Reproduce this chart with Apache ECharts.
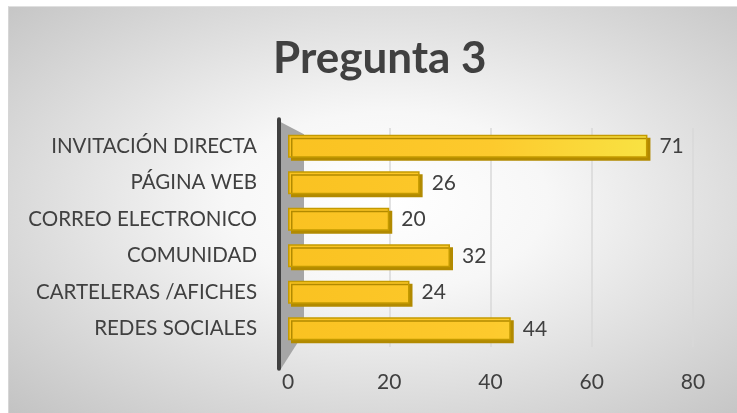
<!DOCTYPE html>
<html>
<head>
<meta charset="utf-8">
<script src="https://cdn.jsdelivr.net/npm/echarts@6/dist/echarts.min.js"></script>
<style>
  html, body { margin: 0; padding: 0; background: #ffffff; }
  #chart {
    position: absolute; left: 8px; top: 6px; width: 729px; height: 407px;
    background: radial-gradient(ellipse at 52% 48%, #ffffff 0%, #f7f7f7 30%, #c3c3c3 100%);
    border-top: 1px solid #e0e0e0; border-left: 1px solid #d6d6d6;
    box-sizing: border-box;
  }
</style>
</head>
<body>
<div id="chart"></div>
<script>
// respuestas a la pregunta 3 (de arriba hacia abajo)
var categorias = ['INVITACIÓN DIRECTA', 'PÁGINA WEB', 'CORREO ELECTRONICO', 'COMUNIDAD', 'CARTELERAS /AFICHES', 'REDES SOCIALES'];
var valores = [71, 26, 20, 32, 24, 44];
var ejeMin = 0;
var ejeMax = 80;
var ejeIntervalo = 20;

var chart = echarts.init(document.getElementById('chart'));
var fuente = 'Lato, "Open Sans", sans-serif';

var option = {
    backgroundColor: 'transparent',
    animation: false,
    title: {
        text: 'Pregunta 3',
        left: 259,
        top: 25,
        textStyle: {fontFamily: fuente, fontSize: 44, fontWeight: 'bold', color: '#404040'}
    },
    grid: {left: 279, right: 44, top: 121, bottom: 66},
    xAxis: {
        type: 'value',
        min: ejeMin,
        max: ejeMax,
        interval: ejeIntervalo,
        axisLine: {show: false},
        axisTick: {show: false},
        axisLabel: {margin: 25, fontFamily: fuente, fontSize: 21, color: '#404040'},
        splitLine: {lineStyle: {color: '#d9d9d9', width: 1.5}}
    },
    yAxis: {
        type: 'category',
        inverse: true,
        data: categorias,
        axisLine: {show: false},
        axisTick: {show: false},
        axisLabel: {margin: 31, fontFamily: fuente, fontSize: 20.5, color: '#404040'}
    },
    series: [{
        type: 'bar',
        data: valores,
        barWidth: 23,
        z: 5,
        itemStyle: {
            color: new echarts.graphic.LinearGradient(279, 0, 650, 0, [
                {offset: 0, color: '#fac221'},
                {offset: 0.55, color: '#fdca2d'},
                {offset: 1, color: '#f8e444'}
            ], true),
            borderColor: '#c49a00',
            borderWidth: 1.5,
            shadowColor: '#b28a00',
            shadowOffsetX: 3,
            shadowOffsetY: 3,
            shadowBlur: 0
        },
        label: {
            show: true,
            position: 'right',
            distance: 12,
            fontFamily: fuente,
            fontSize: 21,
            color: '#404040'
        }
    }]
};
chart.setOption(option);

// pared lateral gris y linea del eje (decoracion 3D)
var pTop = chart.convertToPixel({gridIndex: 0}, [0, categorias[0]]);
var pBot = chart.convertToPixel({gridIndex: 0}, [0, categorias[categorias.length - 1]]);
var x0 = pTop[0];
var yTop = pTop[1] - 24;
var yBot = pBot[1] + 20;
chart.setOption({
    graphic: [{
        type: 'polygon',
        z: 1,
        shape: {points: [[x0 - 7, yTop], [x0 + 16, yTop + 12], [x0 + 16, yBot - 16], [x0 - 7, yBot + 20]]},
        style: {fill: '#a6a6a6'}
    }, {
        type: 'line',
        z: 2,
        shape: {x1: x0 - 9, y1: yTop - 3, x2: x0 - 9, y2: yBot + 20},
        style: {stroke: '#404040', lineWidth: 4, lineCap: 'round'}
    }]
});
</script>
</body>
</html>
